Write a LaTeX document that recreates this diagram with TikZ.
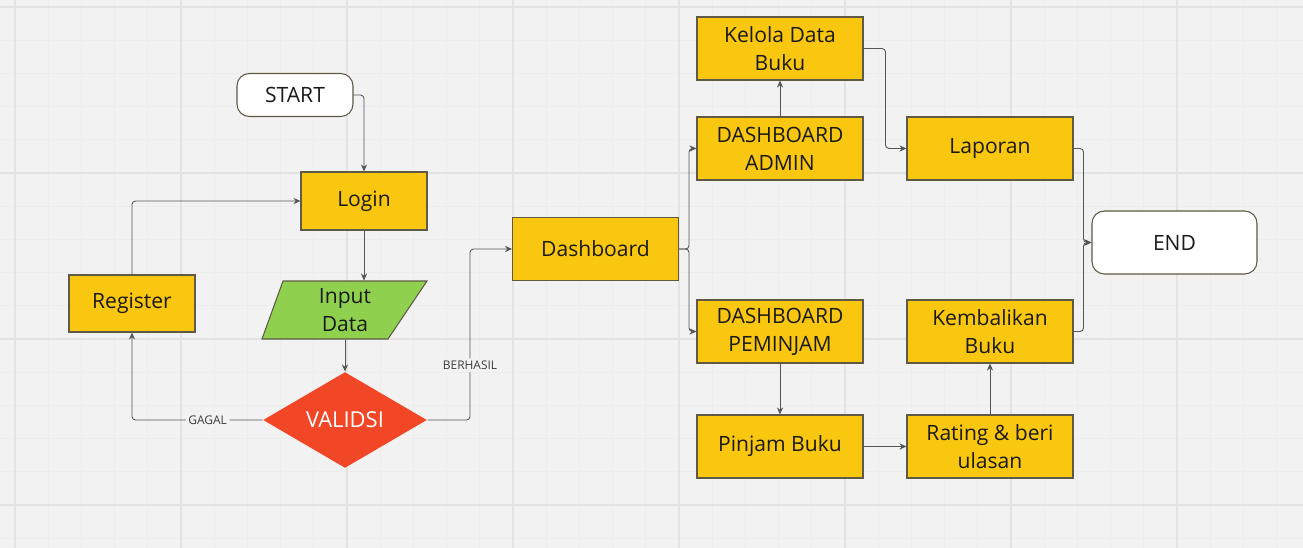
\documentclass[tikz,border=0pt]{standalone}
\usepackage{fontspec}
\setmainfont{Open Sans}
\usetikzlibrary{shapes.geometric,arrows.meta}
\definecolor{bg}{HTML}{F2F2F2}
\definecolor{gridminor}{HTML}{EDEDED}
\definecolor{gridmajor}{HTML}{E3E3E3}
\definecolor{myyellow}{HTML}{FAC710}
\definecolor{mygreen}{HTML}{8FD14F}
\definecolor{myred}{HTML}{F24726}
\definecolor{bordercol}{HTML}{5E5A45}
\definecolor{linecol}{HTML}{555555}
\definecolor{txt}{HTML}{1A1A1A}
\tikzset{
  base/.style={font=\fontsize{12}{16}\selectfont, text=txt, align=center, inner sep=0pt, line width=0.6pt},
  ybox/.style={base, draw=bordercol, fill=myyellow, minimum width=3.32cm, minimum height=1.26cm},
  sbox/.style={base, draw=bordercol, fill=myyellow, minimum width=2.52cm, minimum height=1.16cm},
  term/.style={base, draw=bordercol, fill=white, rounded corners=7pt},
  conn/.style={draw=linecol, line width=0.5pt, rounded corners=2pt, -{Stealth[length=4pt,width=3.5pt]}},
  lbl/.style={font=\fontsize{6.8}{8}\selectfont, text=txt!85, fill=bg, inner sep=1.5pt}
}
\begin{document}
\begin{tikzpicture}[x=0.02cm,y=-0.02cm]
\fill[bg] (0,0) rectangle (1303,548);
\useasboundingbox (0,0) rectangle (1303,548);
% grid
\foreach \i in {0,...,40} {
  \draw[gridminor, line width=0.4pt] ({-18.2+33.2*\i},0) -- ({-18.2+33.2*\i},548);
}
\foreach \i in {0,...,16} {
  \draw[gridminor, line width=0.4pt] (0,{7+33.2*\i}) -- (1303,{7+33.2*\i});
}
\foreach \i in {0,...,7} {
  \draw[gridmajor, line width=0.6pt] ({15+166*\i},0) -- ({15+166*\i},548);
}
\foreach \i in {0,...,3} {
  \draw[gridmajor, line width=0.6pt] (0,{7+166*\i}) -- (1303,{7+166*\i});
}

% nodes
\node[term, minimum width=2.32cm, minimum height=0.86cm] (start) at (295,95) {START};
\node[sbox] (login) at (364,201) {Login};
\node[sbox, minimum height=1.14cm] (register) at (132,303.5) {Register};
\fill[mygreen, draw=bordercol, line width=0.6pt] (283,281) -- (427,281) -- (388,339) -- (262,339) -- cycle;
\node[base, minimum width=2.5cm, minimum height=1.16cm] (input) at (345,310) {Input\\Data};
\node[base, diamond, draw=none, fill=myred, text=white, minimum width=3.28cm, minimum height=1.92cm, font=\fontsize{12.5}{15}\selectfont] (validsi) at (345,420) {VALIDSI};
\node[ybox] (dash) at (595.5,249) {Dashboard};
\node[ybox] (admin) at (780,148.5) {DASHBOARD\\ADMIN};
\node[ybox] (kelola) at (780,48.5) {Kelola Data\\Buku};
\node[ybox] (laporan) at (990,148.5) {Laporan};
\node[ybox] (peminjam) at (780,331.5) {DASHBOARD\\PEMINJAM};
\node[ybox] (kembali) at (990,331.5) {Kembalikan\\Buku};
\node[ybox] (pinjam) at (780,446.5) {Pinjam Buku};
\node[ybox] (rating) at (990,446.5) {Rating \& beri\\ulasan};
\node[term, minimum width=3.3cm, minimum height=1.26cm] (end) at (1174.5,242.5) {END};

% connectors
\draw[conn] (start.east) -| (login.north);
\draw[conn] (login.south) -- (login.south |- input.north);
\draw[conn] (input.south) -- (validsi.north);
\draw[conn] (validsi.west) -| (register.south) node[lbl, pos=0.21] {GAGAL};
\draw[conn] (register.north) |- (login.west);
\coordinate (bk) at (470,420);
\draw[conn] (validsi.east) -- (bk) |- (dash.west) node[lbl, pos=0.16] {BERHASIL};
\draw[conn] (dash.east) -- ++(10,0) |- (admin.west);
\draw[conn] (dash.east) -- ++(10,0) |- (peminjam.west);
\draw[conn] (admin.north) -- (kelola.south);
\draw[conn] (kelola.east) -- ++(22,0) |- (laporan.west);
\draw[conn] (laporan.east) -- ++(10,0) |- (end.west);
\draw[conn] (kembali.east) -- ++(10,0) |- (end.west);
\draw[conn] (peminjam.south) -- (pinjam.north);
\draw[conn] (pinjam.east) -- (rating.west);
\draw[conn] (rating.north) -- (kembali.south);
\end{tikzpicture}
\end{document}
